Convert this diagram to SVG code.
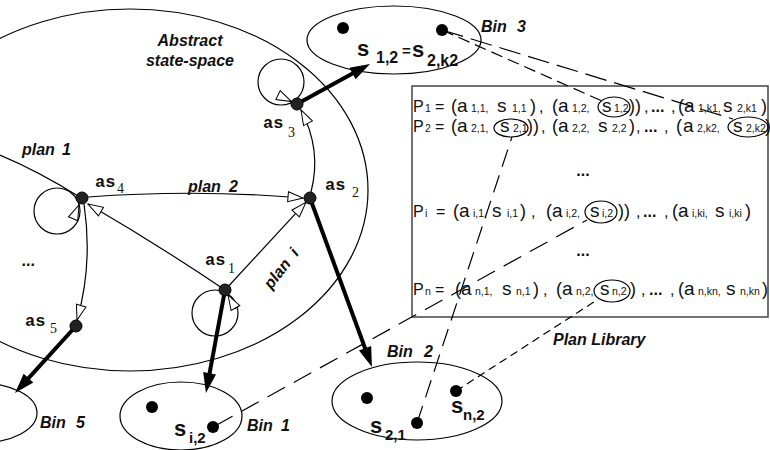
<svg xmlns="http://www.w3.org/2000/svg" width="770" height="450" viewBox="0 0 770 450">
<style>
.ln{fill:none;stroke:#000;stroke-width:1.2}
.thick{fill:none;stroke:#000;stroke-width:4}
.dash{fill:none;stroke:#000;stroke-width:1.2}
.node{fill:#222;stroke:#000;stroke-width:1}
.dot{fill:#000}
.lbl{font-family:"Liberation Sans",Arial,sans-serif;font-weight:bold;font-style:italic;font-size:16px;fill:#111}
.bin{font-family:"Liberation Sans",Arial,sans-serif;font-weight:bold;font-style:italic;font-size:16px;fill:#111}
.as{font-family:"Liberation Mono","Courier New",monospace;font-weight:bold;font-size:17px;fill:#111}
.sub{font-family:"Liberation Serif","Times New Roman",serif;font-size:14px;fill:#111}
.bs{font-family:"Liberation Sans",Arial,sans-serif;font-weight:bold;font-size:22px;fill:#111}
.bss{font-family:"Liberation Sans",Arial,sans-serif;font-weight:bold;font-size:15px;fill:#111}
.row{font-family:"Liberation Sans",Arial,sans-serif;font-size:16px;fill:#111}
.big{font-size:19px}
.par{font-size:18px}
.sm{font-size:10.5px}
.dots{font-weight:bold}
</style>
<defs>
<marker id="open" markerUnits="userSpaceOnUse" markerWidth="17" markerHeight="12" refX="15.5" refY="5.5" orient="auto" overflow="visible">
<path d="M0.5,0.5 L15.5,5.5 L0.5,10.5 z" fill="#fff" stroke="#000" stroke-width="1"/>
</marker>
<marker id="solid" markerUnits="userSpaceOnUse" markerWidth="20" markerHeight="14" refX="12" refY="6.5" orient="auto" overflow="visible">
<path d="M0,0 L20,6.5 L0,13 z" fill="#000"/>
</marker>
</defs>
<rect width="770" height="450" fill="#fff"/>

<g id="state-space">
<ellipse class="ln" cx="130" cy="190" rx="238" ry="181"/>
<text class="lbl" x="190" y="46" text-anchor="middle">Abstract</text>
<text class="lbl" x="190" y="66" text-anchor="middle">state-space</text>
</g>

<g id="plan-library">
<rect x="412" y="86" width="356" height="231" fill="none" stroke="#444" stroke-width="1.5"/>
<text class="row" y="112"><tspan x="413">P</tspan><tspan class="sm" x="425">1</tspan><tspan x="435">=</tspan><tspan class="par" x="451">(</tspan><tspan class="big" x="457">a</tspan><tspan class="sm" x="471">1,1,</tspan><tspan class="big" x="497">s</tspan><tspan class="sm" x="512">1,1</tspan><tspan class="par" x="530">)</tspan><tspan x="539">,</tspan><tspan class="par" x="552">(</tspan><tspan class="big" x="558">a</tspan><tspan class="sm" x="572">1,2,</tspan><tspan class="big" x="602">s</tspan><tspan class="sm" x="614">1,2</tspan><tspan class="par" x="629">))</tspan><tspan x="644">,</tspan><tspan class="dots" x="651">...</tspan><tspan x="671">,</tspan><tspan class="par" x="678">(</tspan><tspan class="big" x="684">a</tspan><tspan class="sm" x="698">1,k1,</tspan><tspan class="big" x="723">s</tspan><tspan class="sm" x="737">2,k1</tspan><tspan class="par" x="761">)</tspan></text>
<text class="row" y="132"><tspan x="413">P</tspan><tspan class="sm" x="425">2</tspan><tspan x="435">=</tspan><tspan class="par" x="451">(</tspan><tspan class="big" x="457">a</tspan><tspan class="sm" x="471">2,1,</tspan><tspan class="big" x="500">s</tspan><tspan class="sm" x="513">2,1</tspan><tspan class="par" x="527">))</tspan><tspan x="541">,</tspan><tspan class="par" x="552">(</tspan><tspan class="big" x="558">a</tspan><tspan class="sm" x="572">2,2,</tspan><tspan class="big" x="598">s</tspan><tspan class="sm" x="612">2,2</tspan><tspan class="par" x="629">)</tspan><tspan x="636">,</tspan><tspan class="dots" x="644">...</tspan><tspan x="664">,</tspan><tspan class="par" x="676">(</tspan><tspan class="big" x="683">a</tspan><tspan class="sm" x="697">2,k2,</tspan><tspan class="big" x="733">s</tspan><tspan class="sm" x="746">2,k2</tspan><tspan class="par" x="765">)</tspan></text>
<text class="row dots" x="583" y="176" text-anchor="middle">...</text>
<text class="row" y="217"><tspan x="413">P</tspan><tspan class="sm" x="425">i</tspan><tspan x="436">=</tspan><tspan class="par" x="453">(</tspan><tspan class="big" x="459">a</tspan><tspan class="sm" x="473">i,1,</tspan><tspan class="big" x="492">s</tspan><tspan class="sm" x="507">i,1</tspan><tspan class="par" x="520">)</tspan><tspan x="531">,</tspan><tspan class="par" x="546">(</tspan><tspan class="big" x="552">a</tspan><tspan class="sm" x="566">i,2,</tspan><tspan class="big" x="590">s</tspan><tspan class="sm" x="602">i,2</tspan><tspan class="par" x="618">))</tspan><tspan x="636">,</tspan><tspan class="dots" x="643">...</tspan><tspan x="664">,</tspan><tspan class="par" x="672">(</tspan><tspan class="big" x="678">a</tspan><tspan class="sm" x="692">i,ki,</tspan><tspan class="big" x="715">s</tspan><tspan class="sm" x="729">i,ki</tspan><tspan class="par" x="745">)</tspan></text>
<text class="row dots" x="583" y="256" text-anchor="middle">...</text>
<text class="row" y="295"><tspan x="413">P</tspan><tspan class="sm" x="425">n</tspan><tspan x="435">=</tspan><tspan class="par" x="455">(</tspan><tspan class="big" x="461">a</tspan><tspan class="sm" x="475">n,1,</tspan><tspan class="big" x="502">s</tspan><tspan class="sm" x="516">n,1</tspan><tspan class="par" x="533">)</tspan><tspan x="543">,</tspan><tspan class="par" x="556">(</tspan><tspan class="big" x="562">a</tspan><tspan class="sm" x="576">n,2,</tspan><tspan class="big" x="600">s</tspan><tspan class="sm" x="612">n,2</tspan><tspan class="par" x="630">)</tspan><tspan x="641">,</tspan><tspan class="dots" x="649">...</tspan><tspan x="670">,</tspan><tspan class="par" x="678">(</tspan><tspan class="big" x="684">a</tspan><tspan class="sm" x="698">n,kn,</tspan><tspan class="big" x="726">s</tspan><tspan class="sm" x="740">n,kn</tspan><tspan class="par" x="762">)</tspan></text>
<ellipse class="ln" cx="614" cy="107" rx="16" ry="10"/>
<ellipse class="ln" cx="511" cy="128" rx="17" ry="9"/>
<ellipse class="ln" cx="748" cy="127" rx="20" ry="10"/>
<ellipse class="ln" cx="601" cy="212" rx="16" ry="11"/>
<ellipse class="ln" cx="612" cy="291" rx="18" ry="11"/>
<text class="bin" x="553" y="345">Plan  Library</text>
</g>

<g id="connectors">
<path class="ln" d="M0,155 Q40,172 78,196"/>
<path class="ln" d="M88,197 Q196,189 303,198" marker-end="url(#open)"/>
<path class="ln" d="M225,290 Q160,246 88,204" marker-end="url(#open)"/>
<path class="ln" d="M84,204 Q93,265 77,320" marker-end="url(#open)"/>
<path class="ln" d="M225,290 L305.9,202.4" marker-end="url(#open)"/>
<path class="ln" d="M311,192 Q322,150 301,110" marker-end="url(#open)"/>
<circle class="ln" cx="57" cy="211" r="23"/>
<path class="ln" d="M73,219 L79,205" marker-end="url(#open)"/>
<circle class="ln" cx="281" cy="82" r="23"/>
<path class="ln" d="M278,95 L291.5,101.6" marker-end="url(#open)"/>
<circle class="ln" cx="215" cy="313" r="23"/>
<path class="ln" d="M236,309 L228,295" marker-end="url(#open)"/>
<path class="thick" d="M297,104 L363,67.8" marker-end="url(#solid)"/>
<path class="thick" d="M310,198 L369.2,359.5" marker-end="url(#solid)"/>
<path class="thick" d="M225,290 L207.4,385.1" marker-end="url(#solid)"/>
<path class="thick" d="M76,326 L20.4,387.1" marker-end="url(#solid)"/>
<path class="dash" d="M442,30 L602,101" stroke-dasharray="12 6"/>
<path class="dash" d="M442,30 L733,119" stroke-dasharray="22 8"/>
<path class="dash" d="M215,426 L587,220" stroke-dasharray="20 10"/>
<path class="dash" d="M417,423 L512,137" stroke-dasharray="18 9"/>
<path class="dash" d="M456,391 L597,300" stroke-dasharray="8 5"/>
</g>

<g id="as1"><circle class="node" cx="225" cy="290" r="6"/><text class="as" x="205" y="265">as</text><text class="sub" x="228" y="273">1</text></g>
<g id="as2"><circle class="node" cx="310" cy="198" r="6"/><text class="as" x="325" y="190">as</text><text class="sub" x="352" y="197">2</text></g>
<g id="as3"><circle class="node" cx="297" cy="104" r="6"/><text class="as" x="263" y="128">as</text><text class="sub" x="288" y="137">3</text></g>
<g id="as4"><circle class="node" cx="82" cy="198" r="6"/><text class="as" x="95" y="187">as</text><text class="sub" x="117" y="193">4</text></g>
<g id="as5"><circle class="node" cx="76" cy="326" r="6"/><text class="as" x="25" y="326">as</text><text class="sub" x="50" y="333">5</text></g>

<g id="labels">
<text class="lbl" x="22" y="155">plan</text><text class="lbl" x="62" y="155">1</text>
<text class="lbl" x="188" y="192">plan</text><text class="lbl" x="229" y="192">2</text>
<g transform="translate(282,268) rotate(-52)"><text class="lbl" x="-24" y="5">plan</text><text class="lbl" x="18" y="5">i</text></g>
<text class="lbl" x="22" y="266">...</text>
</g>

<g id="bin3">
<ellipse class="ln" cx="394" cy="40" rx="87" ry="34"/>
<circle class="dot" cx="343" cy="28" r="6"/>
<circle class="dot" cx="442" cy="30" r="6"/>
<text class="bs" x="357" y="56">s</text><text class="bss" x="376" y="63" style="font-size:16px">1,2</text><text class="bss" x="402" y="56">=</text><text class="bs" x="412" y="57">s</text><text class="bss" x="427" y="66" style="font-size:16px">2,k2</text>
<text class="bin" x="481" y="32">Bin</text><text class="bin" x="517" y="32">3</text>
</g>

<g id="bin1">
<ellipse class="ln" cx="181" cy="416" rx="61" ry="34"/>
<circle class="dot" cx="152" cy="407" r="6"/>
<circle class="dot" cx="213" cy="427" r="6"/>
<text class="bs" x="174" y="436">s</text><text class="bss" x="189" y="443">i,2</text>
<text class="bin" x="247" y="431">Bin</text><text class="bin" x="281" y="431">1</text>
</g>

<g id="bin2">
<ellipse class="ln" cx="417" cy="401" rx="85" ry="39"/>
<circle class="dot" cx="367" cy="398" r="6"/>
<circle class="dot" cx="456" cy="391" r="6"/>
<circle class="dot" cx="417" cy="423" r="6"/>
<text class="bs" x="370" y="433">s</text><text class="bss" x="385" y="440">2,1</text>
<text class="bs" x="451" y="413">s</text><text class="bss" x="463" y="420">n,2</text>
<text class="bin" x="387" y="357">Bin</text><text class="bin" x="424" y="357">2</text>
</g>

<g id="bin5">
<ellipse class="ln" cx="-20" cy="413" rx="57" ry="30"/>
<text class="bin" x="40" y="428">Bin</text><text class="bin" x="76" y="428">5</text>
</g>
</svg>
